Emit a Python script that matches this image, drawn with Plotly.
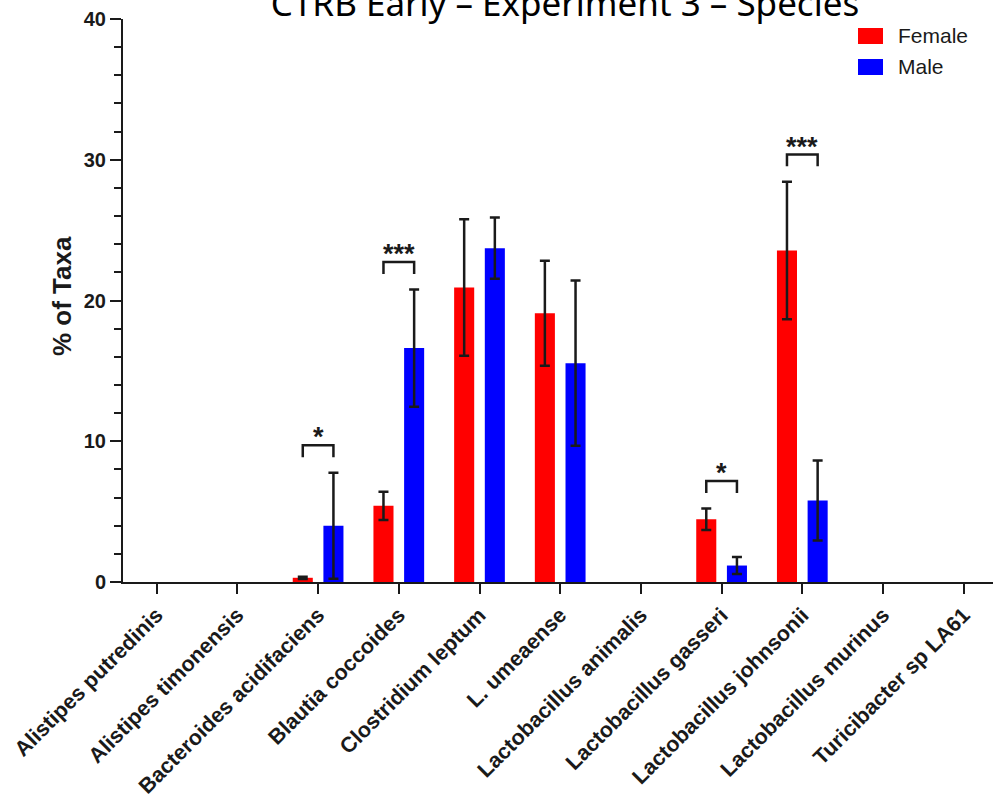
import plotly.graph_objects as go

categories = [
    "Alistipes putredinis", "Alistipes timonensis", "Bacteroides acidifaciens",
    "Blautia coccoides", "Clostridium leptum", "L. umeaense",
    "Lactobacillus animalis", "Lactobacillus gasseri", "Lactobacillus johnsonii",
    "Lactobacillus murinus", "Turicibacter sp LA61",
]
female_mean = [0, 0, 0.30, 5.41, 20.93, 19.10, 0, 4.46, 23.55, 0, 0]
female_err = [0, 0, 0.08, 1.00, 4.85, 3.73, 0, 0.77, 4.88, 0, 0]
male_mean = [0, 0, 4.00, 16.62, 23.72, 15.55, 0, 1.17, 5.79, 0, 0]
male_err = [0, 0, 3.77, 4.17, 2.18, 5.87, 0, 0.61, 2.85, 0, 0]

sig_categories = ["Bacteroides acidifaciens", "Blautia coccoides",
                  "Lactobacillus gasseri", "Lactobacillus johnsonii"]
sig_labels = ["*", "***", "*", "***"]

y_ticks = [0, 10, 20, 30, 40]
title_text = "CTRB Early – Experiment 3 – Species"
y_title = "% of Taxa"
series_names = ["Female", "Male"]
series_colors = ["#FF0000", "#0000FF"]

W, H = 993, 799
ML, MT, MR, MB = 123, 19, 0, 217
PW, PH = W - ML - MR, H - MT - MB
AX = "#1a1a1a"
FONT = "Liberation Sans, Arial, sans-serif"


def px_x(p):
    return (p - ML) / PW


def px_y(p):
    return (H - MB - p) / PH


fig = go.Figure()
for name, mean, err, col in [
    (series_names[0], female_mean, female_err, series_colors[0]),
    (series_names[1], male_mean, male_err, series_colors[1]),
]:
    # zero-valued groups draw nothing (as in the original figure)
    shown_mean = [m if m > 0 else None for m in mean]
    shown_err = [e if m > 0 else None for m, e in zip(mean, err)]
    fig.add_trace(go.Bar(
        x=categories, y=shown_mean, name=name,
        marker=dict(color=col, line=dict(width=0)),
        error_y=dict(type="data", array=shown_err, visible=True, color=AX,
                     thickness=2.5, width=5),
        showlegend=False,
    ))

# significance brackets
half = 0.19
for cat, lab in zip(sig_categories, sig_labels):
    i = categories.index(cat)
    top_val = max(female_mean[i] + female_err[i], male_mean[i] + male_err[i])
    leg = top_val + 1.1
    bar_top = leg + 0.85
    fig.add_shape(type="path",
                  path=f"M {i-half},{leg} L {i-half},{bar_top} L {i+half},{bar_top} L {i+half},{leg}",
                  xref="x", yref="y", line=dict(color=AX, width=2.5))
    fig.add_annotation(x=i, y=bar_top + 0.55, xref="x", yref="y", text=f"<b>{lab}</b>",
                       showarrow=False, yanchor="middle", xanchor="center",
                       font=dict(family=FONT, size=27, color=AX))

# custom legend
for k, (name, col) in enumerate(zip(series_names, series_colors)):
    y0 = 28 + k * 31
    fig.add_shape(type="rect", xref="paper", yref="paper",
                  x0=px_x(858), x1=px_x(883), y0=px_y(y0 + 16), y1=px_y(y0),
                  fillcolor=col, line=dict(width=0))
    fig.add_annotation(x=px_x(896), y=px_y(y0 + 8), xref="paper", yref="paper",
                       text=name, showarrow=False, xanchor="left", yanchor="middle",
                       font=dict(family=FONT, size=21, color=AX))

# y axis title
fig.add_annotation(x=px_x(62), y=px_y(296), xref="paper", yref="paper",
                   text=f"<b>{y_title}</b>", textangle=-90, showarrow=False,
                   xanchor="center", yanchor="middle",
                   font=dict(family=FONT, size=26, color=AX))

fig.update_layout(
    width=W, height=H,
    margin=dict(l=ML, r=MR, t=MT, b=MB, pad=0, autoexpand=False),
    paper_bgcolor="white", plot_bgcolor="white",
    barmode="group", bargap=0.24, bargroupgap=0.346,
    title=dict(text=title_text, x=565 / W, xanchor="center",
               y=0.9955, yanchor="middle", yref="container", automargin=False,
               font=dict(family="Noto Sans, Open Sans, sans-serif", size=35, color="black")),
    xaxis=dict(
        range=[-0.4176, 10.363], showline=True, linecolor=AX, linewidth=2,
        ticks="outside", ticklen=10, tickwidth=2, tickcolor=AX,
        tickangle=-45, showgrid=False, zeroline=False, automargin=False,
        tickfont=dict(family=FONT, size=21.5, color=AX, weight="bold"),
    ),
    yaxis=dict(
        range=[0, 40], tickvals=y_ticks, showline=True, linecolor=AX, linewidth=2,
        ticks="outside", ticklen=11, tickwidth=2, tickcolor=AX,
        minor=dict(dtick=2, ticks="outside", ticklen=7, tickwidth=2, tickcolor=AX),
        showgrid=False, zeroline=False, automargin=False,
        tickfont=dict(family=FONT, size=20, color=AX, weight="bold"),
    ),
)

fig.write_html("out.html")
